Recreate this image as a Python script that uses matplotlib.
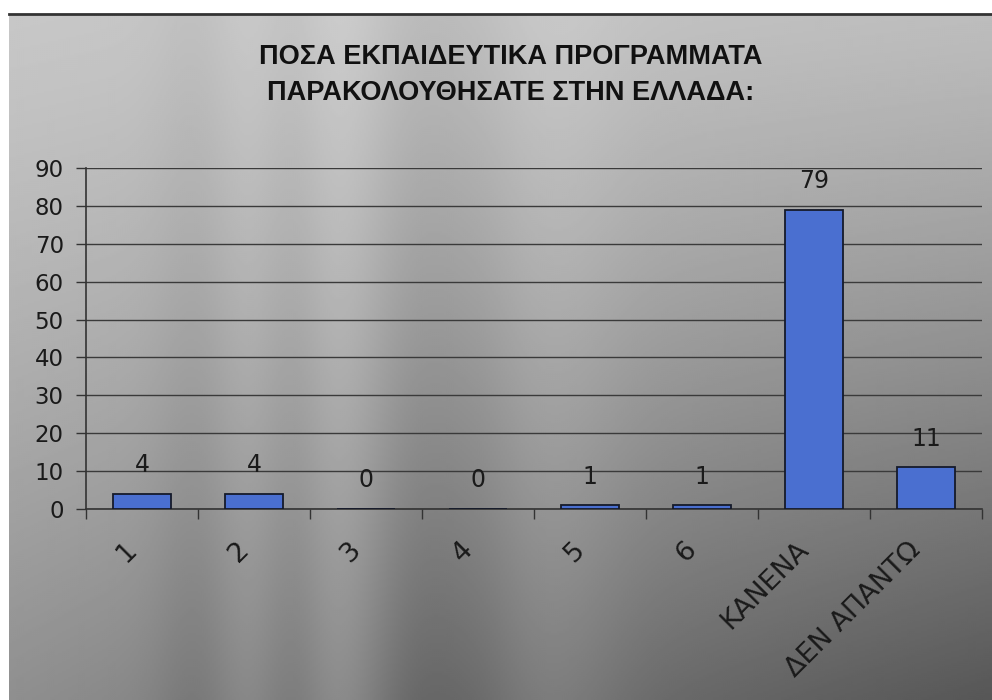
import numpy as np
import matplotlib
matplotlib.use("Agg")
import matplotlib.pyplot as plt
from matplotlib.ticker import MultipleLocator, FixedLocator

# ---- data ----
categories = ["1", "2", "3", "4", "5", "6", "ΚΑΝΕΝΑ", "ΔΕΝ ΑΠΑΝΤΩ"]
values = [4, 4, 0, 0, 1, 1, 79, 11]
title_text = "ΠΟΣΑ ΕΚΠΑΙΔΕΥΤΙΚΑ ΠΡΟΓΡΑΜΜΑΤΑ\nΠΑΡΑΚΟΛΟΥΘΗΣΑΤΕ ΣΤΗΝ ΕΛΛΑΔΑ:"

plt.rcParams['font.family'] = ['DejaVu Sans']

W, H = 992, 700
fig = plt.figure(figsize=(W / 100, H / 100), dpi=100, facecolor='white')

# ---- scanned-paper style background ----
bg = fig.add_axes([9 / W, 0, (W - 9) / W, (H - 14) / H], zorder=-5)
gh, gw = 343, 492
yy, xx = np.mgrid[0:1:gh * 1j, 0:1:gw * 1j]
img = 0.78 - 0.04 * xx - 0.22 * yy ** 1.2 - 0.18 * xx * yy ** 1.1
band_w = 0.5 + 0.5 * yy
for cx, amp, s in [(0.33, 0.07, 0.035), (0.24, 0.04, 0.03), (0.56, 0.05, 0.05),
                   (0.19, -0.05, 0.03), (0.29, -0.05, 0.025), (0.42, -0.06, 0.035),
                   (0.48, -0.03, 0.03)]:
    img += amp * band_w * np.exp(-((xx - cx) / s) ** 2 / 2)
img = np.clip(img, 0, 1)
bg.imshow(img, cmap='gray', vmin=0, vmax=1, aspect='auto', interpolation='bilinear',
          extent=[0, 1, 0, 1])
bg.plot([0, 1], [1, 1], color='#333333', lw=2, transform=bg.transAxes, clip_on=False)
bg.set_axis_off()

# ---- main chart ----
ax = fig.add_axes([86 / W, 1 - 509 / H, (982 - 86) / W, (509 - 168) / H])
ax.patch.set_alpha(0)
x = np.arange(len(categories))
ax.bar(x, values, width=0.52, color='#4a6fd0', edgecolor='#151a2a', linewidth=1.3, zorder=3)

for xi, v in zip(x, values):
    ax.annotate(str(v), (xi, v), xytext=(0, 12), textcoords='offset points',
                ha='center', va='bottom', fontsize=17, color='#1a1a1a')

ax.set_xlim(-0.5, len(categories) - 0.5)
ax.set_ylim(0, 90)
ax.yaxis.set_major_locator(MultipleLocator(10))
ax.yaxis.grid(True, color='#3a3a3a', linewidth=1)
ax.set_axisbelow(True)

ax.set_xticks(x)
ax.set_xticklabels(categories, rotation=45, ha='right', va='top', fontsize=19.5, color='#1a1a1a')
ax.xaxis.set_minor_locator(FixedLocator(np.arange(len(categories) + 1) - 0.5))
ax.tick_params(axis='x', which='major', length=0, pad=20)
ax.tick_params(axis='x', which='minor', length=7, width=1, color='#333333', direction='out')
ax.tick_params(axis='y', length=7, width=1, color='#333333', labelsize=16.5, pad=9,
               labelcolor='#1a1a1a')

for s in ['top', 'right']:
    ax.spines[s].set_visible(False)
for s in ['left', 'bottom']:
    ax.spines[s].set_color('#333333')
    ax.spines[s].set_linewidth(1.2)

fig.text(511 / W, 1 - 75 / H, title_text, ha='center', va='center', fontsize=19.5,
         fontweight='bold', linespacing=1.45, color='#111111',
         family=['Liberation Sans', 'DejaVu Sans'])

fig.savefig('out.png', dpi=100)
